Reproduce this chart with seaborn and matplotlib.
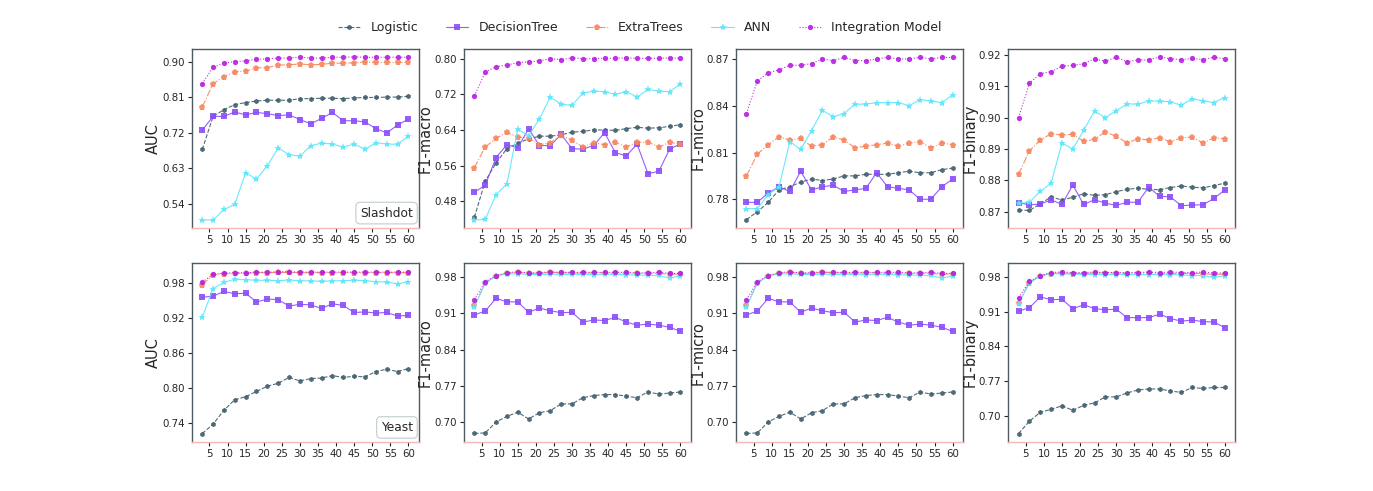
import numpy as np
import pandas as pd
import matplotlib
matplotlib.use('Agg')
import matplotlib.pyplot as plt
import seaborn as sns

sns.set_style('ticks')
plt.rcParams['font.family'] = ['DejaVu Sans']

# number of features / rounds on x axis
x_vals = list(range(3, 61, 3))
models = ['Logistic', 'DecisionTree', 'ExtraTrees', 'ANN', 'Integration Model']

# ---- Slashdot ----
sl_auc_log = [0.678, 0.762, 0.779, 0.792, 0.797, 0.801, 0.803, 0.803, 0.803, 0.807, 0.807, 0.808, 0.808, 0.807, 0.809, 0.810, 0.810, 0.811, 0.811, 0.813]
sl_auc_dt = [0.727, 0.762, 0.762, 0.773, 0.766, 0.772, 0.769, 0.764, 0.766, 0.754, 0.743, 0.757, 0.772, 0.751, 0.751, 0.748, 0.731, 0.720, 0.740, 0.755]
sl_auc_et = [0.786, 0.845, 0.863, 0.875, 0.877, 0.885, 0.886, 0.892, 0.893, 0.895, 0.893, 0.894, 0.897, 0.897, 0.898, 0.900, 0.899, 0.899, 0.899, 0.899]
sl_auc_ann = [0.499, 0.499, 0.526, 0.539, 0.619, 0.603, 0.637, 0.682, 0.665, 0.661, 0.688, 0.694, 0.692, 0.684, 0.692, 0.679, 0.695, 0.692, 0.691, 0.712]
sl_auc_int = [0.845, 0.887, 0.897, 0.901, 0.903, 0.907, 0.908, 0.910, 0.910, 0.912, 0.910, 0.910, 0.912, 0.912, 0.913, 0.912, 0.912, 0.912, 0.912, 0.912]

sl_mac_log = [0.444, 0.525, 0.566, 0.598, 0.610, 0.620, 0.626, 0.626, 0.629, 0.635, 0.637, 0.640, 0.640, 0.639, 0.643, 0.646, 0.644, 0.645, 0.648, 0.652]
sl_mac_dt = [0.500, 0.516, 0.578, 0.607, 0.600, 0.643, 0.605, 0.605, 0.630, 0.598, 0.597, 0.605, 0.634, 0.589, 0.582, 0.608, 0.542, 0.547, 0.597, 0.609]
sl_mac_et = [0.555, 0.602, 0.621, 0.635, 0.624, 0.622, 0.607, 0.611, 0.628, 0.617, 0.602, 0.611, 0.607, 0.612, 0.602, 0.612, 0.613, 0.602, 0.612, 0.609]
sl_mac_ann = [0.438, 0.439, 0.495, 0.519, 0.642, 0.627, 0.665, 0.714, 0.698, 0.695, 0.723, 0.727, 0.726, 0.720, 0.726, 0.714, 0.731, 0.727, 0.726, 0.744]
sl_mac_int = [0.716, 0.770, 0.782, 0.786, 0.791, 0.793, 0.795, 0.800, 0.798, 0.802, 0.800, 0.800, 0.801, 0.801, 0.802, 0.801, 0.801, 0.801, 0.802, 0.801]

sl_mic_log = [0.767, 0.772, 0.778, 0.786, 0.788, 0.791, 0.793, 0.792, 0.793, 0.795, 0.795, 0.796, 0.796, 0.796, 0.797, 0.798, 0.797, 0.797, 0.799, 0.800]
sl_mic_dt = [0.778, 0.778, 0.784, 0.788, 0.785, 0.798, 0.786, 0.788, 0.789, 0.785, 0.786, 0.787, 0.797, 0.788, 0.787, 0.786, 0.780, 0.780, 0.788, 0.793]
sl_mic_et = [0.795, 0.809, 0.815, 0.820, 0.818, 0.819, 0.814, 0.815, 0.820, 0.818, 0.813, 0.814, 0.815, 0.816, 0.814, 0.816, 0.817, 0.813, 0.816, 0.815]
sl_mic_ann = [0.774, 0.774, 0.783, 0.788, 0.817, 0.812, 0.824, 0.837, 0.833, 0.835, 0.841, 0.841, 0.842, 0.842, 0.842, 0.840, 0.844, 0.843, 0.842, 0.847]
sl_mic_int = [0.835, 0.856, 0.861, 0.863, 0.866, 0.866, 0.867, 0.870, 0.869, 0.871, 0.869, 0.869, 0.870, 0.871, 0.870, 0.870, 0.871, 0.870, 0.871, 0.871]

sl_bin_log = [0.8705, 0.8704, 0.8725, 0.8747, 0.8737, 0.8746, 0.8757, 0.8752, 0.8754, 0.8764, 0.8771, 0.8775, 0.8771, 0.8770, 0.8777, 0.8782, 0.8778, 0.8776, 0.8783, 0.8791]
sl_bin_dt = [0.8728, 0.8722, 0.8724, 0.8738, 0.8723, 0.8785, 0.8723, 0.8738, 0.8727, 0.8720, 0.8730, 0.8730, 0.8778, 0.8749, 0.8747, 0.8719, 0.8721, 0.8722, 0.8742, 0.8769]
sl_bin_et = [0.8819, 0.8894, 0.8928, 0.8949, 0.8944, 0.8947, 0.8924, 0.8931, 0.8955, 0.8940, 0.8920, 0.8932, 0.8929, 0.8936, 0.8923, 0.8936, 0.8937, 0.8920, 0.8935, 0.8933]
sl_bin_ann = [0.8727, 0.8730, 0.8765, 0.8791, 0.8919, 0.8900, 0.8959, 0.9021, 0.9000, 0.9022, 0.9044, 0.9043, 0.9053, 0.9053, 0.9050, 0.9040, 0.9060, 0.9054, 0.9048, 0.9064]
sl_bin_int = [0.9000, 0.9110, 0.9140, 0.9147, 0.9164, 0.9167, 0.9172, 0.9187, 0.9180, 0.9193, 0.9178, 0.9184, 0.9184, 0.9194, 0.9188, 0.9185, 0.9189, 0.9185, 0.9193, 0.9188]

# ---- Yeast ----
ye_auc_log = [0.722, 0.738, 0.762, 0.780, 0.785, 0.794, 0.803, 0.808, 0.818, 0.812, 0.816, 0.817, 0.821, 0.818, 0.820, 0.819, 0.828, 0.832, 0.828, 0.833]
ye_auc_dt = [0.955, 0.957, 0.965, 0.961, 0.962, 0.947, 0.952, 0.951, 0.940, 0.943, 0.942, 0.936, 0.944, 0.941, 0.929, 0.930, 0.928, 0.929, 0.923, 0.924]
ye_auc_et = [0.976, 0.9937, 0.995, 0.996, 0.996, 0.997, 0.997, 0.9975, 0.9975, 0.997, 0.997, 0.997, 0.997, 0.997, 0.997, 0.997, 0.997, 0.997, 0.997, 0.997]
ye_auc_ann = [0.921, 0.970, 0.9806, 0.9857, 0.985, 0.984, 0.984, 0.9834, 0.9845, 0.983, 0.983, 0.982, 0.983, 0.9835, 0.984, 0.9835, 0.9817, 0.981, 0.978, 0.9817]
ye_auc_int = [0.981, 0.994, 0.9965, 0.997, 0.997, 0.998, 0.998, 0.9988, 0.9988, 0.998, 0.998, 0.998, 0.998, 0.998, 0.998, 0.998, 0.998, 0.998, 0.998, 0.998]

ye_mac_log = [0.678, 0.679, 0.700, 0.711, 0.719, 0.706, 0.718, 0.722, 0.735, 0.735, 0.747, 0.751, 0.753, 0.753, 0.750, 0.747, 0.758, 0.754, 0.756, 0.758]
ye_mac_dt = [0.907, 0.914, 0.939, 0.932, 0.932, 0.912, 0.920, 0.915, 0.911, 0.912, 0.893, 0.897, 0.896, 0.902, 0.893, 0.887, 0.889, 0.887, 0.883, 0.875]
ye_mac_et = [0.925, 0.968, 0.982, 0.987, 0.989, 0.987, 0.987, 0.989, 0.988, 0.988, 0.987, 0.988, 0.988, 0.987, 0.987, 0.987, 0.987, 0.987, 0.985, 0.986]
ye_mac_ann = [0.922, 0.968, 0.982, 0.986, 0.986, 0.985, 0.985, 0.985, 0.985, 0.985, 0.985, 0.984, 0.985, 0.985, 0.984, 0.984, 0.983, 0.983, 0.978, 0.982]
ye_mac_int = [0.936, 0.971, 0.9826, 0.988, 0.990, 0.988, 0.988, 0.990, 0.989, 0.989, 0.989, 0.989, 0.989, 0.989, 0.989, 0.988, 0.988, 0.989, 0.987, 0.987]

# F1-micro on Yeast reads the same as F1-macro
ye_mic_log = list(ye_mac_log)
ye_mic_dt = list(ye_mac_dt)
ye_mic_et = list(ye_mac_et)
ye_mic_ann = list(ye_mac_ann)
ye_mic_int = list(ye_mac_int)

ye_bin_log = [0.664, 0.689, 0.707, 0.713, 0.720, 0.711, 0.721, 0.726, 0.738, 0.738, 0.746, 0.752, 0.754, 0.754, 0.750, 0.747, 0.757, 0.755, 0.757, 0.757]
ye_bin_dt = [0.911, 0.918, 0.940, 0.934, 0.935, 0.916, 0.924, 0.916, 0.914, 0.915, 0.898, 0.898, 0.898, 0.905, 0.896, 0.891, 0.893, 0.890, 0.889, 0.878]
ye_bin_et = [0.928, 0.968, 0.982, 0.987, 0.988, 0.987, 0.987, 0.988, 0.988, 0.988, 0.987, 0.988, 0.988, 0.987, 0.987, 0.987, 0.987, 0.987, 0.985, 0.986]
ye_bin_ann = [0.926, 0.969, 0.982, 0.987, 0.986, 0.986, 0.985, 0.985, 0.985, 0.985, 0.985, 0.985, 0.985, 0.985, 0.985, 0.984, 0.983, 0.983, 0.979, 0.983]
ye_bin_int = [0.938, 0.971, 0.983, 0.989, 0.990, 0.989, 0.989, 0.990, 0.989, 0.989, 0.989, 0.989, 0.990, 0.989, 0.990, 0.989, 0.989, 0.990, 0.988, 0.988]

ylabels = ['AUC', 'F1-macro', 'F1-micro', 'F1-binary']
datasets = ['Slashdot', 'Yeast']

panels = [
    [[sl_auc_log, sl_auc_dt, sl_auc_et, sl_auc_ann, sl_auc_int],
     [sl_mac_log, sl_mac_dt, sl_mac_et, sl_mac_ann, sl_mac_int],
     [sl_mic_log, sl_mic_dt, sl_mic_et, sl_mic_ann, sl_mic_int],
     [sl_bin_log, sl_bin_dt, sl_bin_et, sl_bin_ann, sl_bin_int]],
    [[ye_auc_log, ye_auc_dt, ye_auc_et, ye_auc_ann, ye_auc_int],
     [ye_mac_log, ye_mac_dt, ye_mac_et, ye_mac_ann, ye_mac_int],
     [ye_mic_log, ye_mic_dt, ye_mic_et, ye_mic_ann, ye_mic_int],
     [ye_bin_log, ye_bin_dt, ye_bin_et, ye_bin_ann, ye_bin_int]],
]

yticks = [
    [[0.54, 0.63, 0.72, 0.81, 0.90], [0.48, 0.56, 0.64, 0.72, 0.80],
     [0.78, 0.81, 0.84, 0.87], [0.87, 0.88, 0.89, 0.90, 0.91, 0.92]],
    [[0.74, 0.80, 0.86, 0.92, 0.98], [0.70, 0.77, 0.84, 0.91, 0.98],
     [0.70, 0.77, 0.84, 0.91, 0.98], [0.70, 0.77, 0.84, 0.91, 0.98]],
]
ylims = [
    [(0.4797, 0.933), (0.4207, 0.8218), (0.7618, 0.8764), (0.8649, 0.9219)],
    [(0.7076, 1.013), (0.6615, 1.0063), (0.6615, 1.0063), (0.647, 1.0075)],
]

colors = ['#3e5d6b', '#8b4dfc', '#f8845c', '#5ce6fb', '#b71de0']
markers = ['h', 's', 'p', '*', 'o']
linestyles = ['--', '-', '-.', '-', ':']
msizes = [3.8, 4.0, 4.5, 6.0, 3.8]

fig, axes = plt.subplots(2, 4, figsize=(13.73, 4.91), dpi=100)
fig.subplots_adjust(left=0.1398, right=0.8995, top=0.9002, bottom=0.0998,
                    wspace=0.2, hspace=0.2)

for r in range(2):
    for c in range(4):
        ax = axes[r, c]
        for m in range(5):
            sns.lineplot(x=x_vals, y=panels[r][c][m], ax=ax, color=colors[m],
                         marker=markers[m], markersize=msizes[m],
                         markeredgewidth=0, linestyle=linestyles[m],
                         linewidth=0.8, alpha=0.9, label=models[m], legend=False)
        ax.set_xticks(range(5, 61, 5))
        ax.set_yticks(yticks[r][c])
        ax.set_yticklabels(['%.2f' % v for v in yticks[r][c]])
        ax.set_ylim(*ylims[r][c])
        ax.set_ylabel(ylabels[c], fontsize=10.5, labelpad=1)
        ax.tick_params(labelsize=7.4, length=3, width=0.8, pad=2)
        for side in ['left', 'top', 'right']:
            ax.spines[side].set_visible(True)
            ax.spines[side].set_color('#4d5b61')
            ax.spines[side].set_linewidth(1.0)
        ax.spines['bottom'].set_color('#f2b9b9')
        ax.spines['bottom'].set_linewidth(1.0)
        if c == 0:
            ax.text(0.975, 0.045, datasets[r], transform=ax.transAxes,
                    ha='right', va='bottom', fontsize=8.8,
                    bbox=dict(boxstyle='round,pad=0.35', fc='white',
                              ec='#c8d2d4', lw=0.9))

handles, labels = axes[0, 0].get_legend_handles_labels()
fig.legend(handles, labels, loc='center', ncol=5, frameon=False,
           bbox_to_anchor=(0.466, 0.943), fontsize=9, handlelength=1.8,
           columnspacing=2.2)

fig.savefig('out.png', dpi=100)
